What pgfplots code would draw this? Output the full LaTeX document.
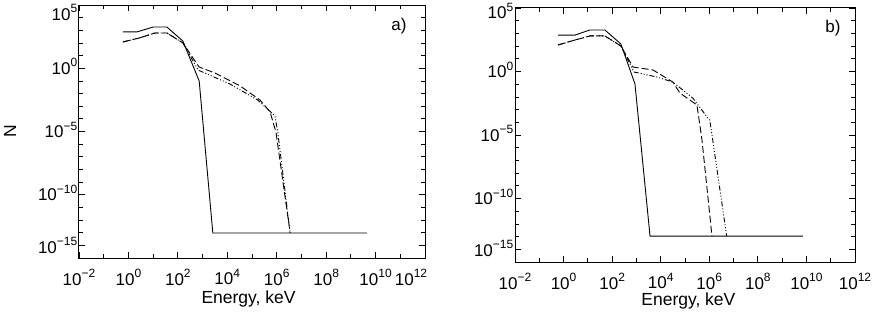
\documentclass[border=0pt]{standalone}
\usepackage{fontspec}
\setmainfont{Liberation Sans}
\usepackage{pgfplots}
\pgfplotsset{compat=1.18}
\newcommand\tl[1]{10\raisebox{7.5pt}{\fontsize{12}{12}\selectfont #1}}
\tikzset{
  sol/.style={solid},
  dsh/.style={dash pattern=on 7pt off 3pt},
  dd/.style={dash pattern=on 5pt off 2pt on 1pt off 2pt on 1pt off 2pt on 1pt off 2pt},
}
\begin{document}
\begin{tikzpicture}
\useasboundingbox (0,0) rectangle (876pt,311pt);
% ---------------- panel a ----------------
\begin{axis}[
    xmode=log, ymode=log, scale only axis, anchor=south west,
    at={(79pt,53pt)}, width=346pt, height=253pt,
    xmin=1e-2, xmax=1e12, ymin=1e-15, ymax=1e5,
    xtick={1e-2,1e0,1e2,1e4,1e6,1e8,1e10,1e12},
    xticklabels={\tl{−2},\tl{0},\tl{2},\tl{4},\tl{6},\tl{8},\tl{10},\tl{12}\hspace*{28pt}},
    minor xtick={1e-1,1e1,1e3,1e5,1e7,1e9,1e11},
    ytick={1e-15,1e-10,1e-5,1e0,1e5},
    yticklabels={\raisebox{11pt}{\tl{−15}},\tl{−10},\tl{−5},\tl{0},\raisebox{-9pt}{\tl{5}}},
    minor ytick={1e-13,1e-12,1e-11,1e-9,1e-8,1e-7,1e-6,1e-4,1e-3,1e-2,1e-1,1e1,1e2,1e3,1e4},
    extra y ticks={1e-14}, extra y tick labels={},
    tick align=inside, tick pos=both,
    major tick length=6pt, minor tick length=4pt,
    every tick/.style={black, line width=0.8pt},
    axis line style={line width=1pt},
    tick label style={font=\fontsize{17}{20}\selectfont},
    label style={font=\fontsize{17.5}{21}\selectfont},
    xticklabel style={anchor=north, inner ysep=0pt, yshift=-11pt},
    yticklabel style={anchor=base east, inner xsep=1.5pt, yshift=-6pt},
    xlabel={Energy, keV},
    xlabel style={at={(axis description cs:0.49,0)}, anchor=base, inner sep=0pt, yshift=-45pt},
    ylabel={N},
    ylabel style={at={(axis description cs:0,0.5)}, anchor=center, yshift=69pt},
    every axis plot/.append style={black, line width=0.9pt},
    clip=false]
\addplot[sol] coordinates {(0.6,741) (2.2,741) (10,1820) (36,1820) (160,141) (730,0.098) (2600,9.5e-14) (4.6e9,9.5e-14)};
\addplot[dsh] coordinates {(0.6,120) (2.7,245) (12,617) (36,617) (160,100) (720,1.26) (3200,0.42) (3.3e4,0.040) (2.1e5,3.1e-3) (5.4e5,3.5e-4) (9.3e5,9.1e-6) (3.5e6,9.5e-14)};
\addplot[dd] coordinates {(0.6,120) (2.7,245) (12,617) (36,617) (160,100) (660,0.72) (1.3e4,0.056) (1.7e5,3.1e-3) (8.5e5,1.7e-4) (1.1e6,9.1e-6) (3.5e6,9.5e-14)};
\node[font=\fontsize{17}{20}\selectfont] at (rel axis cs:0.925,0.915) {a)};
\end{axis}
% ---------------- panel b ----------------
\begin{axis}[
    xmode=log, ymode=log, scale only axis, anchor=south west,
    at={(515pt,49pt)}, width=340pt, height=254pt,
    xmin=1e-2, xmax=1e12, ymin=1e-15, ymax=1e5,
    xtick={1e-2,1e0,1e2,1e4,1e6,1e8,1e10,1e12},
    xticklabels={\tl{−2},\tl{0},\tl{2},\tl{4},\tl{6},\tl{8},\tl{10},\tl{12}},
    minor xtick={1e-1,1e1,1e3,1e5,1e7,1e9,1e11},
    ytick={1e-15,1e-10,1e-5,1e0,1e5},
    yticklabels={\raisebox{12pt}{\tl{−15}},\tl{−10},\tl{−5},\tl{0},\raisebox{-5pt}{\tl{5}}},
    minor ytick={1e-13,1e-12,1e-11,1e-9,1e-8,1e-7,1e-6,1e-4,1e-3,1e-2,1e-1,1e1,1e2,1e3,1e4},
    extra y ticks={1e-14}, extra y tick labels={},
    tick align=inside, tick pos=both,
    major tick length=6pt, minor tick length=4pt,
    every tick/.style={black, line width=0.8pt},
    axis line style={line width=1pt},
    tick label style={font=\fontsize{17}{20}\selectfont},
    label style={font=\fontsize{17.5}{21}\selectfont},
    xticklabel style={anchor=north, inner ysep=0pt, yshift=-11pt},
    yticklabel style={anchor=base east, inner xsep=1.5pt, yshift=-6pt},
    xlabel={Energy, keV},
    xlabel style={at={(axis description cs:0.51,0)}, anchor=base, inner sep=0pt, yshift=-43.5pt},
    every axis plot/.append style={black, line width=0.9pt},
    clip=false]
\addplot[sol] coordinates {(0.59,741) (2.95,741) (12.3,1860) (50,1860) (229,148) (870,0.105) (3630,1.1e-13) (7.1e9,1.1e-13)};
\addplot[dsh] coordinates {(0.59,123) (2.95,302) (12.3,631) (50,631) (229,102) (724,2.24) (4790,1.32) (3.16e4,0.148) (6.2e4,0.020) (3.1e5,2.3e-3) (5e5,4.1e-6) (1.29e6,1.1e-13)};
\addplot[dd] coordinates {(0.59,123) (2.95,302) (12.3,631) (50,631) (229,102) (794,0.91) (6900,0.37) (3.16e4,0.148) (2.1e5,8.1e-3) (8.7e5,2.2e-4) (1.05e6,1.5e-4) (5.2e6,1.1e-13)};
\node[font=\fontsize{17}{20}\selectfont] at (rel axis cs:0.935,0.92) {b)};
\end{axis}
\end{tikzpicture}
\end{document}
